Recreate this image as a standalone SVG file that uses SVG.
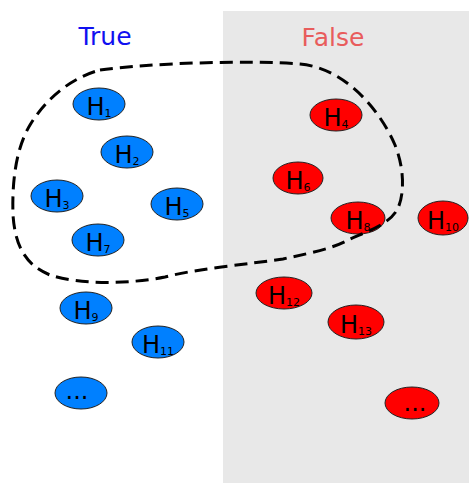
<svg xmlns="http://www.w3.org/2000/svg" width="469" height="483" viewBox="0 0 469 483">
<style>
.t{fill:#0080ff;stroke:#222;stroke-width:1}
.f{fill:#ff0000;stroke:#222;stroke-width:1}
.lbl{font-family:"DejaVu Sans",sans-serif;font-size:24px;fill:#000;text-anchor:middle}
.sub{font-size:11px}
</style>
<rect x="0" y="0" width="469" height="483" fill="#fff"/>
<rect x="223" y="11" width="246" height="472" fill="#e8e8e8"/>
<text x="105" y="45" font-family="DejaVu Sans, sans-serif" font-size="25" fill="#1010f0" text-anchor="middle">True</text>
<text x="333" y="46" font-family="DejaVu Sans, sans-serif" font-size="25" fill="#e85c5c" text-anchor="middle">False</text>
<g id="h1"><ellipse class="t" cx="99" cy="104" rx="26" ry="16"/><text class="lbl" x="99" y="115">H<tspan class="sub" dy="2">1</tspan></text></g>
<g id="h2"><ellipse class="t" cx="127" cy="152" rx="26" ry="16"/><text class="lbl" x="127" y="163">H<tspan class="sub" dy="2">2</tspan></text></g>
<g id="h3"><ellipse class="t" cx="57" cy="196" rx="26" ry="16"/><text class="lbl" x="57" y="207">H<tspan class="sub" dy="2">3</tspan></text></g>
<g id="h5"><ellipse class="t" cx="177" cy="204" rx="26" ry="16"/><text class="lbl" x="177" y="215">H<tspan class="sub" dy="2">5</tspan></text></g>
<g id="h7"><ellipse class="t" cx="98" cy="240" rx="26" ry="16"/><text class="lbl" x="98" y="251">H<tspan class="sub" dy="2">7</tspan></text></g>
<g id="h9"><ellipse class="t" cx="86" cy="308" rx="26" ry="16"/><text class="lbl" x="86" y="319">H<tspan class="sub" dy="2">9</tspan></text></g>
<g id="h11"><ellipse class="t" cx="158" cy="342" rx="26" ry="16"/><text class="lbl" x="158" y="353">H<tspan class="sub" dy="2">11</tspan></text></g>
<g id="tdots"><ellipse class="t" cx="81" cy="393" rx="26" ry="16"/><text class="lbl" x="77" y="399">...</text></g>
<g id="h4"><ellipse class="f" cx="336" cy="115" rx="26" ry="16"/><text class="lbl" x="336" y="126">H<tspan class="sub" dy="2">4</tspan></text></g>
<g id="h6"><ellipse class="f" cx="298" cy="178" rx="25" ry="16"/><text class="lbl" x="298" y="189">H<tspan class="sub" dy="2">6</tspan></text></g>
<g id="h8"><ellipse class="f" cx="358" cy="218" rx="27" ry="16"/><text class="lbl" x="358" y="229">H<tspan class="sub" dy="2">8</tspan></text></g>
<g id="h10"><ellipse class="f" cx="443" cy="218" rx="25" ry="17"/><text class="lbl" x="443" y="229">H<tspan class="sub" dy="2">10</tspan></text></g>
<g id="h12"><ellipse class="f" cx="284" cy="293" rx="28" ry="16"/><text class="lbl" x="284" y="304">H<tspan class="sub" dy="2">12</tspan></text></g>
<g id="h13"><ellipse class="f" cx="356" cy="322" rx="28" ry="17"/><text class="lbl" x="356" y="333">H<tspan class="sub" dy="2">13</tspan></text></g>
<g id="fdots"><ellipse class="f" cx="412" cy="403" rx="27" ry="16"/><text class="lbl" x="415" y="411">...</text></g>
<g id="connectors">
<path d="M 100,70 C 150,63 250,60 300,64 C 345,68 380,110 395,145 C 405,170 404,195 398,208 C 390,225 365,232 348,240 C 330,250 300,255 283,259 C 250,264 200,268 165,277 C 130,284 80,285 50,275 C 25,265 15,245 13,215 C 12,185 15,150 30,125 C 45,100 70,78 100,70 Z" fill="none" stroke="#000" stroke-width="3" stroke-dasharray="13,7"/>
</g>
</svg>
